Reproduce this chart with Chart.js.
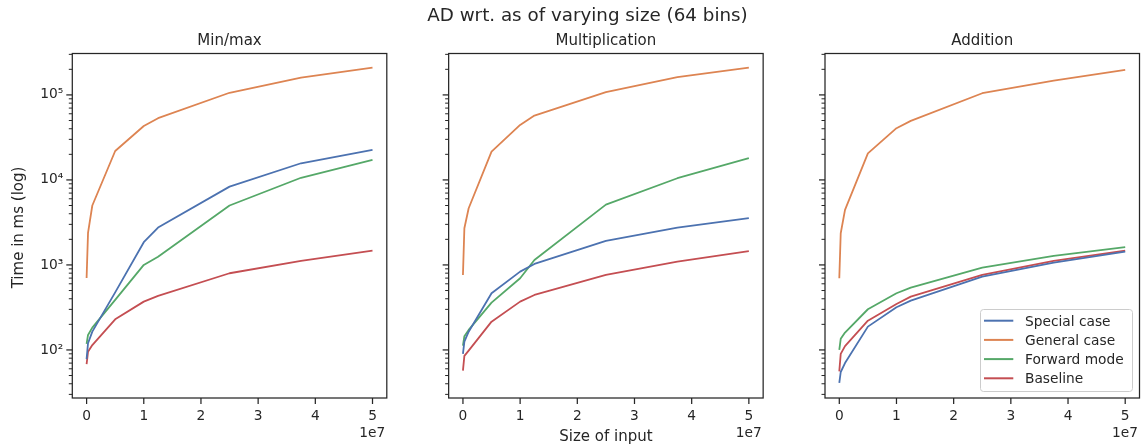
<!DOCTYPE html>
<html><head><meta charset="utf-8">
<script src="https://cdn.jsdelivr.net/npm/chart.js@4.4.0/dist/chart.umd.min.js"></script>
<style>
html,body{margin:0;padding:0;background:#fff;}
#fig{position:relative;width:1141px;height:446px;overflow:hidden;background:#fff;}
canvas{position:absolute;top:0;}
svg{position:absolute;left:0;top:0;pointer-events:none;}
svg text{font-family:'DejaVu Sans';fill:#262626;}
</style></head><body>
<div id="fig">
<canvas id="c0" width="390" height="446" style="left:10px;width:390px;height:446px"></canvas>
<canvas id="c1" width="390" height="446" style="left:386px;width:390px;height:446px"></canvas>
<canvas id="c2" width="390" height="446" style="left:751px;width:390px;height:446px"></canvas>
<svg id="ov" width="1141" height="446" xmlns="http://www.w3.org/2000/svg"></svg>
</div>
<script>
// ---------------- data ----------------
const figTitle = 'AD wrt. as of varying size (64 bins)';
const panelTitles = ['Min/max', 'Multiplication', 'Addition'];
const seriesNames = ['Special case', 'General case', 'Forward mode', 'Baseline'];
const seriesColors = ['#4C72B0', '#DD8452', '#55A868', '#C44E52'];
const xLabel = 'Size of input';
const yLabel = 'Time in ms (log)';
const xOffsetLabel = '1e7';

const sizes = [0, 2.5e5, 1e6, 5e6, 1e7, 1.25e7, 2.5e7, 3.75e7, 5e7];
const xTickValues = [0, 1e7, 2e7, 3e7, 4e7, 5e7];

const minmaxSpecial  = [78, 120, 164, 475, 1850, 2750, 8340, 15700, 22500];
const minmaxGeneral  = [703, 2380, 5000, 21900, 43100, 53200, 106000, 160000, 209000];
const minmaxForward  = [118, 150, 183, 388, 1000, 1250, 5000, 10600, 17200];
const minmaxBaseline = [68, 95, 114, 229, 370, 432, 798, 1114, 1471];

const multSpecial  = [90, 125, 164, 464, 834, 1026, 1914, 2749, 3547];
const multGeneral  = [762, 2700, 4640, 21500, 44400, 57100, 107600, 161500, 209000];
const multForward  = [112, 145, 172, 360, 698, 1144, 5120, 10470, 18000];
const multBaseline = [57, 85, 98, 215, 370, 443, 762, 1094, 1456];

const addSpecial  = [41, 55, 70, 188, 318, 380, 727, 1063, 1434];
const addGeneral  = [698, 2360, 4440, 20500, 40600, 49500, 104700, 147300, 197000];
const addForward  = [100, 135, 160, 301, 464, 541, 930, 1276, 1615];
const addBaseline = [56, 90, 111, 221, 347, 424, 762, 1114, 1470];

const panels = [
  [minmaxSpecial, minmaxGeneral, minmaxForward, minmaxBaseline],
  [multSpecial, multGeneral, multForward, multBaseline],
  [addSpecial, addGeneral, addForward, addBaseline]
];

// ---------------- layout ----------------
const INK = '#262626';
const FONT = 'DejaVu Sans';
const X_MIN = -2.5e6, X_MAX = 5.25e7;
const Y_MIN = 27.2, Y_MAX = 3.07e5;
const axLeft = [72.3, 448.65, 825.0];
const axWidth = 314.5;
const axTop = 53.5, axBottom = 398;
const canvasLeft = [10, 386, 751];
const canvasW = 390, canvasH = 446;
const xAxisH = 30;

const SUP = {'0':'⁰','1':'¹','2':'²','3':'³','4':'⁴','5':'⁵','6':'⁶','7':'⁷','8':'⁸','9':'⁹','-':'⁻'};
function isPow10(v){ const l = Math.log10(v); return Math.abs(l - Math.round(l)) < 1e-9; }
function powLabel(v){ const e = String(Math.round(Math.log10(v))); return '10' + e.split('').map(c=>SUP[c]).join(''); }

const yTickValues = [];
for (let e = 1; e <= 5; e++) for (let k = 1; k <= 9; k++) {
  const v = k * Math.pow(10, e);
  if (v >= Y_MIN && v <= Y_MAX) yTickValues.push(v);
}

const framePlugin = {
  id: 'frame',
  afterDraw(chart) {
    const {ctx, chartArea: a, scales: {x, y}} = chart;
    ctx.save();
    ctx.strokeStyle = INK;
    y.ticks.forEach(t => {
      const py = y.getPixelForValue(t.value);
      const major = isPow10(t.value);
      const len = major ? 6 : 3.5;
      ctx.lineWidth = major ? 1.25 : 1;
      ctx.beginPath(); ctx.moveTo(a.left - len, py); ctx.lineTo(a.left, py); ctx.stroke();
    });
    x.ticks.forEach(t => {
      const px = x.getPixelForValue(t.value);
      ctx.lineWidth = 1.25;
      ctx.beginPath(); ctx.moveTo(px, a.bottom); ctx.lineTo(px, a.bottom + 6); ctx.stroke();
    });
    ctx.lineWidth = 1.25;
    ctx.strokeRect(a.left, a.top, a.right - a.left, a.bottom - a.top);
    ctx.restore();
  }
};

panels.forEach((series, p) => {
  const yAxisW = axLeft[p] - canvasLeft[p];
  const padRight = canvasW - yAxisW - axWidth;
  const padBottom = canvasH - axBottom - xAxisH;
  new Chart(document.getElementById('c' + p), {
    type: 'line',
    data: {
      datasets: series.map((vals, i) => ({
        label: seriesNames[i],
        data: sizes.map((s, j) => ({x: s, y: vals[j]})),
        borderColor: seriesColors[i],
        backgroundColor: seriesColors[i],
        borderWidth: 1.8,
        pointRadius: 0,
        tension: 0,
        fill: false,
        borderJoinStyle: 'round'
      }))
    },
    options: {
      responsive: false,
      animation: false,
      devicePixelRatio: 1,
      layout: {padding: {left: 0, right: padRight, top: axTop, bottom: padBottom}},
      plugins: {legend: {display: false}, title: {display: false}, tooltip: {enabled: false}},
      scales: {
        x: {
          type: 'linear', min: X_MIN, max: X_MAX,
          afterBuildTicks: s => { s.ticks = xTickValues.map(v => ({value: v})); },
          afterFit: s => { s.height = xAxisH; },
          grid: {display: true, drawOnChartArea: false, tickLength: 6, tickColor: 'rgba(0,0,0,0)'},
          border: {display: false},
          ticks: {
            autoSkip: false, maxRotation: 0, padding: 4, color: INK,
            font: {family: FONT, size: 13.75},
            callback: v => String(Math.round(v / 1e7))
          }
        },
        y: {
          type: 'logarithmic', min: Y_MIN, max: Y_MAX,
          afterBuildTicks: s => { s.ticks = yTickValues.map(v => ({value: v, major: isPow10(v)})); },
          afterFit: s => { s.width = yAxisW; },
          grid: {display: true, drawOnChartArea: false, tickLength: 6, tickColor: 'rgba(0,0,0,0)'},
          border: {display: false},
          ticks: {
            autoSkip: false, padding: 3, color: INK,
            font: {family: FONT, size: 13.75},
            callback: v => (p === 0 && isPow10(v)) ? powLabel(v) : ''
          }
        }
      }
    },
    plugins: [framePlugin]
  });
});

// ---------------- text overlay ----------------
const NS = 'http://www.w3.org/2000/svg';
const ov = document.getElementById('ov');
function txt(str, x, y, size, anchor, extra) {
  const t = document.createElementNS(NS, 'text');
  t.setAttribute('x', x); t.setAttribute('y', y);
  t.setAttribute('font-size', size); t.setAttribute('text-anchor', anchor || 'middle');
  if (extra) for (const k in extra) t.setAttribute(k, extra[k]);
  t.textContent = str; ov.appendChild(t); return t;
}
txt(figTitle, 587.5, 21, 18.3);
panelTitles.forEach((s, p) => txt(s, axLeft[p] + axWidth / 2, 44.5, 15));
txt(xLabel, axLeft[1] + axWidth / 2, 440.5, 15);
txt(yLabel, 22.7, 227.5, 15, 'middle', {transform: 'rotate(-90 22.7 227.5)'});
axLeft.forEach(l => txt(xOffsetLabel, l + axWidth - 1.5, 437, 13.75, 'end'));

// legend (inside the Addition panel, lower right)
const lg = {x: 980.5, y: 309.5, w: 152, h: 82};
const rect = document.createElementNS(NS, 'rect');
rect.setAttribute('x', lg.x); rect.setAttribute('y', lg.y);
rect.setAttribute('width', lg.w); rect.setAttribute('height', lg.h);
rect.setAttribute('rx', 3); rect.setAttribute('fill', 'rgba(255,255,255,0.8)');
rect.setAttribute('stroke', '#cccccc'); rect.setAttribute('stroke-width', 1);
ov.appendChild(rect);
seriesNames.forEach((n, i) => {
  const base = 325.7 + i * 19.2;
  const ln = document.createElementNS(NS, 'line');
  ln.setAttribute('x1', 984); ln.setAttribute('x2', 1013.3);
  ln.setAttribute('y1', base - 5); ln.setAttribute('y2', base - 5);
  ln.setAttribute('stroke', seriesColors[i]); ln.setAttribute('stroke-width', 2);
  ov.appendChild(ln);
  txt(n, 1025, base, 13.75, 'start');
});
</script>
</body></html>
